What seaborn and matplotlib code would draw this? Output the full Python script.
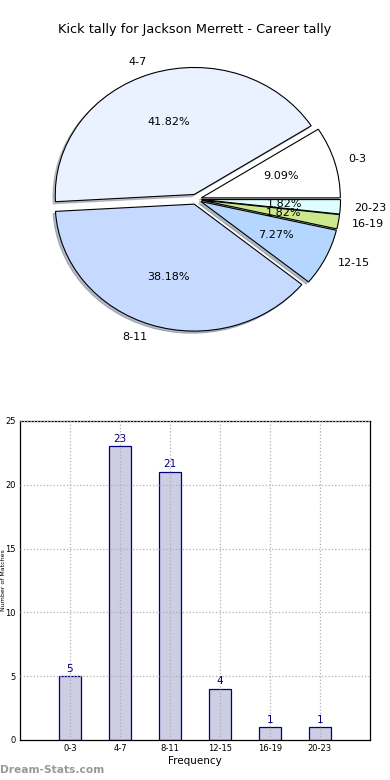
import matplotlib
matplotlib.use("Agg")
import matplotlib.pyplot as plt
import seaborn as sns
import numpy as np

# data
ranges = ["0-3", "4-7", "8-11", "12-15", "16-19", "20-23"]
kicks = [5, 23, 21, 4, 1, 1]
slice_colors = ["#ffffff", "#ebf2ff", "#c6daff", "#b5d7ff", "#cbe88d", "#ddffff"]
y_ticks = [0, 5, 10, 15, 20, 25]

sns.set_style("white")
plt.rcParams['font.family'] = ['DejaVu Sans']
plt.rcParams['text.color'] = 'black'
plt.rcParams['xtick.color'] = 'black'
plt.rcParams['ytick.color'] = 'black'
plt.rcParams['axes.labelcolor'] = 'black'

fig = plt.figure(figsize=(3.9, 7.8), dpi=100)

# pie chart
ax1 = fig.add_axes([0.057, 0.541, 0.891, 0.407])
ax1.pie(kicks, labels=ranges, colors=slice_colors, explode=[0.04] * len(kicks),
        autopct='%1.2f%%', startangle=0,
        shadow={'ox': -0.012, 'oy': -0.012, 'shade': 0.45},
        wedgeprops={'edgecolor': 'black', 'linewidth': 0.8},
        textprops={'fontsize': 8})
ax1.set_aspect('auto')
ax1.set_xlim(-1.25, 1.25)
ax1.set_ylim(-1.25, 1.25)
fig.text(0.5, 1 - 30 / 780, "Kick tally for Jackson Merrett - Career tally",
         ha='center', va='center', fontsize=9.3)

# bar chart
ax2 = fig.add_axes([0.0513, 0.0513, 0.897, 0.409])
sns.barplot(x=ranges, y=kicks, color="#cdcde3", edgecolor="#000080",
            linewidth=0.9, width=0.45, saturation=1, ax=ax2)
ax2.set_xlim(-1, 6)
ax2.set_ylim(0, 25)
ax2.set_yticks(y_ticks)
ax2.tick_params(axis='both', labelsize=6, length=0, pad=3)
ax2.grid(True, linestyle=':', color='#b0b0b0', linewidth=0.9)
ax2.set_axisbelow(False)
for s in ax2.spines.values():
    s.set_color('black')
    s.set_linewidth(0.9)
for i, v in enumerate(kicks):
    ax2.text(i, v + 0.2, str(v), ha='center', va='bottom', fontsize=7.5, color='#000080')
ax2.set_xlabel("Frequency", fontsize=7.5, labelpad=2)
ax2.set_ylabel("Number of Matches", fontsize=4.5)
ax2.yaxis.set_label_coords(-0.04, 0.5)

fig.text(0.0, 10 / 780, "Dream-Stats.com", ha='left', va='center',
         fontsize=7.7, color='#999999', fontweight='bold')

fig.savefig("out.png", dpi=100)
